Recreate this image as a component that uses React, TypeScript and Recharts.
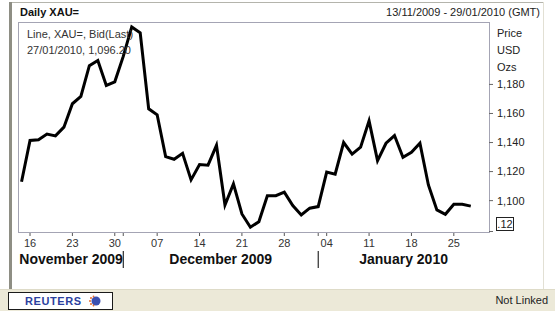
import { LineChart, Line, XAxis, YAxis } from "recharts";

// weekdays shown on the axis, grouped by month
const novDays = [13, 16, 17, 18, 19, 20, 23, 24, 25, 26, 27, 30];
const decDays = [1, 2, 3, 4, 7, 8, 9, 10, 11, 14, 15, 16, 17, 18, 21, 22, 23, 24, 25, 28, 29, 30, 31];
const janDays = [1, 4, 5, 6, 7, 8, 11, 12, 13, 14, 15, 18, 19, 20, 21, 22, 25, 26, 27, 28, 29];
const monthNames = ["November 2009", "December 2009", "January 2010"];

// XAU= bid (last), USD/oz
const prices: (number | null)[] = [
  1113, 1141.4, 1141.9, 1145.8, 1144.6, 1150.6, 1166.7, 1171.7, 1192.9, 1196.5, 1179.3, 1181.8,
  1199.3, 1219.6, 1215.5, 1163.2, 1159.1, 1130.3, 1128.5, 1132.6, 1114.3, 1124.8, 1124.4, 1138.1,
  1097, 1111.5, 1090.8, 1081.7, 1085.5, 1103.4, 1103.4, 1105.8, 1096.6, 1090.1, 1094.8,
  1095.9, 1119.6, 1118.2, 1140, 1132, 1136.8, 1154.9, 1127.5, 1139.5, 1144.8, 1129.9, 1133.3,
  1139.5, 1110.8, 1093.6, 1090.6, 1097.5, 1097.5, 1096.2, null, null,
];

const yTicks = [1100, 1120, 1140, 1160, 1180];
const yDomain = [1078.4, 1222.3];
const xDomain = [-0.3, 55.15];

const font = "'Liberation Sans', Arial, sans-serif";

const days = [
  ...novDays.map((d) => ({ day: d, month: 0 })),
  ...decDays.map((d) => ({ day: d, month: 1 })),
  ...janDays.map((d) => ({ day: d, month: 2 })),
];

const data = days.map((d, i) => ({ i, day: d.day, month: d.month, price: prices[i] }));

// mondays get a label, first day of a month gets a separator
const mondayTicks = [1, 6, 11, 16, 21, 26, 31, 36, 41, 46, 51];
const monthStarts = monthNames.map((_, m) => data.findIndex((d) => d.month === m));
const dayTicks = [...mondayTicks, ...monthStarts.slice(1)].sort((a, b) => a - b);
const monthCenters = monthStarts.map((s, m) => {
  const start = m === 0 ? xDomain[0] : s;
  const end = m === monthStarts.length - 1 ? xDomain[1] : monthStarts[m + 1];
  return (start + end) / 2;
});

const pad = (n: number) => (n < 10 ? "0" + n : String(n));

function DayTick(props: any) {
  const { x, y, payload } = props;
  const idx = payload.value;
  const isMonday = mondayTicks.includes(idx);
  const isStart = monthStarts.includes(idx) && idx > 0;
  return (
    <g>
      <line x1={x} x2={x} y1={y + 1} y2={y + 4} stroke="#555" />
      {isMonday && (
        <text x={x} y={y + 15} textAnchor="middle" fontSize={11} fill="#333" fontFamily={font}>
          {pad(data[idx].day)}
        </text>
      )}
      {isStart && <line x1={x} x2={x} y1={y + 19} y2={y + 36} stroke="#000" />}
    </g>
  );
}

function MonthTick(props: any) {
  const { x, y, index } = props;
  return (
    <text x={x} y={y + 14} textAnchor="middle" fontSize={14} fontWeight="bold" fill="#111" fontFamily={font}>
      {monthNames[index]}
    </text>
  );
}

const txt = (style: React.CSSProperties): React.CSSProperties => ({
  position: "absolute",
  fontFamily: font,
  fontSize: 11,
  color: "#222",
  lineHeight: "13px",
  whiteSpace: "nowrap",
  ...style,
});

export default function App() {
  return (
    <div style={{ position: "absolute", left: 0, top: 0, width: 555, height: 311, background: "#fff", overflow: "hidden" }}>
      {/* window frame */}
      <div style={{ position: "absolute", left: 9, top: 2, width: 535, height: 1, background: "#b4b4ac" }} />
      <div style={{ position: "absolute", left: 9, top: 2, width: 3, height: 287, background: "#8e8e84" }} />
      <div style={{ position: "absolute", left: 543, top: 2, width: 1, height: 287, background: "#e2e0d4" }} />

      <div style={txt({ left: 20, top: 6, fontWeight: "bold", color: "#111" })}>Daily XAU=</div>
      <div style={txt({ right: 15, top: 6 })}>13/11/2009 - 29/01/2010 (GMT)</div>

      {/* plot frame */}
      <div style={{ position: "absolute", left: 18, top: 22, width: 472, height: 211, boxSizing: "border-box", border: "1px solid #a4a4b4" }} />

      <div style={{ position: "absolute", left: 0, top: 0 }}>
        <LineChart width={555} height={311} data={data} margin={{ top: 23, right: 11, bottom: 41, left: 19 }}>
          <XAxis
            dataKey="i"
            type="number"
            domain={xDomain}
            ticks={dayTicks}
            interval={0}
            height={18}
            axisLine={false}
            tickLine={false}
            tickSize={0}
            tickMargin={0}
            tick={<DayTick />}
          />
          <XAxis
            xAxisId="month"
            dataKey="i"
            type="number"
            domain={xDomain}
            ticks={monthCenters}
            interval={0}
            height={20}
            axisLine={false}
            tickLine={false}
            tickSize={0}
            tickMargin={0}
            tick={<MonthTick />}
          />
          <YAxis
            orientation="right"
            domain={yDomain}
            ticks={yTicks}
            interval={0}
            width={55}
            axisLine={false}
            tickSize={4}
            tickMargin={4}
            tickLine={{ stroke: "#666" }}
            tick={{ fontSize: 11, fill: "#222", fontFamily: font }}
            tickFormatter={(v: number) => v.toLocaleString("en-US")}
          />
          <Line
            type="linear"
            dataKey="price"
            stroke="#000"
            strokeWidth={3}
            strokeLinejoin="miter"
            dot={false}
            activeDot={false}
            isAnimationActive={false}
          />
        </LineChart>
      </div>

      <div style={txt({ left: 27, top: 28, color: "#333" })}>Line, XAU=, Bid(Last)</div>
      <div style={txt({ left: 27, top: 44, color: "#333" })}>27/01/2010, 1,096.20</div>

      <div style={txt({ left: 497, top: 27 })}>Price</div>
      <div style={txt({ left: 497, top: 44 })}>USD</div>
      <div style={txt({ left: 497, top: 61 })}>Ozs</div>

      <div style={{ position: "absolute", left: 489, top: 231, width: 4, height: 1, background: "#666" }} />
      <div
        style={txt({ left: 496, top: 217, width: 18, height: 14, boxSizing: "border-box", border: "1px solid #222", textAlign: "center", lineHeight: "12px" })}
      >
        .12
      </div>

      {/* status bar */}
      <div style={{ position: "absolute", left: 0, top: 289, width: 555, height: 22, background: "#ece9d8", borderTop: "1px solid #dedbc8" }} />
      <div
        style={{ position: "absolute", left: 8, top: 292, width: 105, height: 18, boxSizing: "border-box", border: "1px solid #1a1a1a", background: "#fff" }}
      >
        <div style={txt({ left: 16, top: 2, fontWeight: "bold", color: "#2b3f9e", letterSpacing: 0.6 })}>REUTERS</div>
        <svg width={14} height={14} style={{ position: "absolute", left: 78, top: 1 }}>
          <circle cx={9} cy={7} r={4.5} fill="#3b50b0" />
          <circle cx={4} cy={4} r={1} fill="#e86a2a" />
          <circle cx={3} cy={7} r={1} fill="#e86a2a" />
          <circle cx={4} cy={10} r={1} fill="#e86a2a" />
          <circle cx={6.5} cy={2.5} r={0.9} fill="#e86a2a" />
          <circle cx={6.5} cy={11.5} r={0.9} fill="#e86a2a" />
        </svg>
      </div>
      <div style={txt({ right: 7, top: 294 })}>Not Linked</div>
    </div>
  );
}
